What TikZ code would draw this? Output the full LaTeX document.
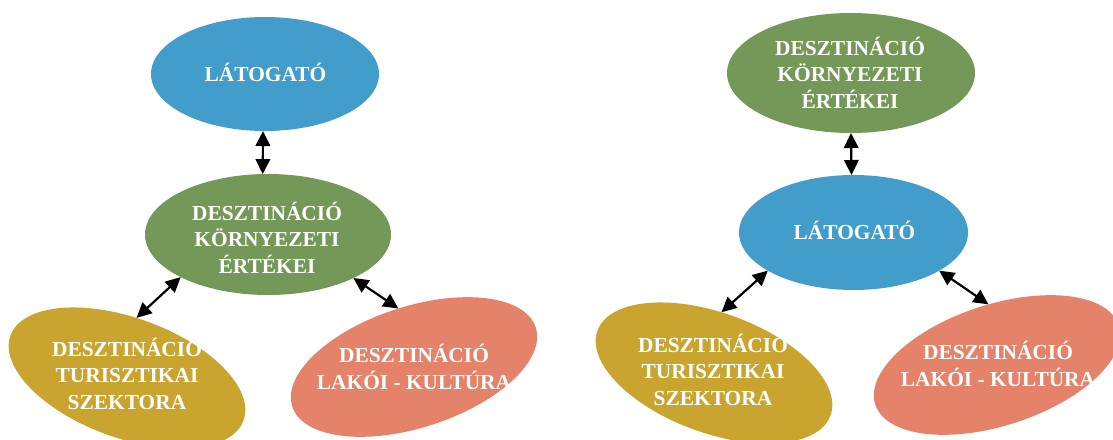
\documentclass[tikz,border=0pt]{standalone}
\usepackage{fontspec}
\setmainfont{Liberation Serif}
\usetikzlibrary{shapes.geometric,arrows.meta}
\definecolor{cblue}{HTML}{439DCA}
\definecolor{cgreen}{HTML}{739857}
\definecolor{cgold}{HTML}{C9A530}
\definecolor{csalmon}{HTML}{E5836A}
\begin{document}
\begin{tikzpicture}[x=1pt,y=-1pt,
  oval/.style={ellipse, inner sep=0pt, outer sep=0pt, draw=none},
  bluebox/.style={oval, fill=cblue, minimum width=228pt, minimum height=114pt},
  greenbox/.style={oval, fill=cgreen, minimum width=248pt, minimum height=120pt},
  goldbox/.style={oval, fill=cgold, minimum width=248pt, minimum height=120pt, rotate=-20},
  salmonbox/.style={oval, fill=csalmon, minimum width=256pt, minimum height=121pt, rotate=18},
  lbl/.style={text=white, font=\fontsize{21.4}{26.5}\selectfont\bfseries, align=center, inner sep=0pt},
  link/.style={{Triangle[length=15pt,width=14.5pt]}-{Triangle[length=15pt,width=14.5pt]}, line width=2.2pt, black}]
\useasboundingbox (0,0) rectangle (1113,439);
\clip (0,0) rectangle (1113,439);
% left diagram
\node[bluebox] (blueA) at (265,74) {};
\node[greenbox, minimum width=246pt, minimum height=121pt] (greenA) at (268,234.5) {};
\node[goldbox] (goldA) at (127,378) {};
\node[salmonbox] (salmonA) at (414,367) {};
\node[lbl] (tBlueA) at (265.5,72.5) {LÁTOGATÓ};
\node[lbl] (tGreenA) at (267,237.5) {DESZTINÁCIÓ\\KÖRNYEZETI\\ÉRTÉKEI};
\node[lbl] (tGoldA) at (127,373.5) {DESZTINÁCIÓ\\TURISZTIKAI\\SZEKTORA};
\node[lbl] (tSalmonA) at (414,366.75) {DESZTINÁCIÓ\\LAKÓI - KULTÚRA};
\draw[link] (blueA.268) -- (greenA.95);
\draw[link] (greenA.206) -- (goldA.101);
\draw[link] (greenA.333) -- (salmonA.87);
% right diagram
\node[greenbox] (greenB) at (851,73) {};
\node[bluebox, minimum width=229pt, minimum height=115pt] (blueB) at (853.5,232.5) {};
\node[goldbox] (goldB) at (714,373) {};
\node[salmonbox] (salmonB) at (997,365) {};
\node[lbl] (tGreenB) at (850,72.5) {DESZTINÁCIÓ\\KÖRNYEZETI\\ÉRTÉKEI};
\node[lbl] (tBlueB) at (854.5,230.5) {LÁTOGATÓ};
\node[lbl] (tGoldB) at (713,369.5) {DESZTINÁCIÓ\\TURISZTIKAI\\SZEKTORA};
\node[lbl] (tSalmonB) at (998,363.75) {DESZTINÁCIÓ\\LAKÓI - KULTÚRA};
\draw[link] (greenB.270) -- (blueB.92);
\draw[link] (blueB.204) -- (goldB.103);
\draw[link] (blueB.336) -- (salmonB.80);
\end{tikzpicture}
\end{document}
